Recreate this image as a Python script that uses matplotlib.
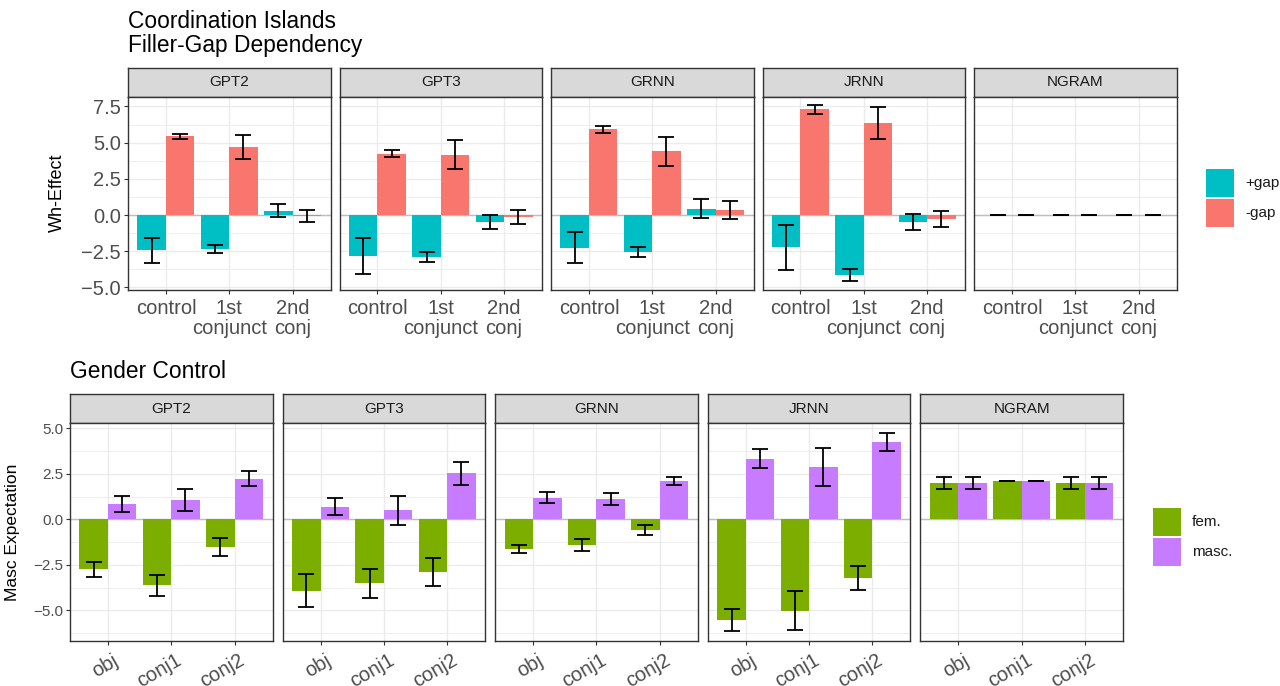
import numpy as np
import matplotlib
matplotlib.use("Agg")
import matplotlib.pyplot as plt
import matplotlib.transforms as mtransforms
from matplotlib.patches import Rectangle

plt.rcParams['font.family'] = ['Liberation Sans', 'DejaVu Sans']

# ---- data ----
models = ['GPT2', 'GPT3', 'GRNN', 'JRNN', 'NGRAM']

island_conds = ['control', '1st\nconjunct', '2nd\nconj']
gap_labels = ['+gap', '-gap']
# rows = models, cols = conditions
plus_gap = [[-2.45, -2.33, 0.30], [-2.81, -2.92, -0.47], [-2.25, -2.55, 0.44],
            [-2.24, -4.17, -0.48], [0.0, 0.0, 0.0]]
plus_gap_err = [[0.89, 0.29, 0.43], [1.24, 0.35, 0.48], [1.09, 0.36, 0.64],
                [1.55, 0.41, 0.58], [0.0, 0.0, 0.0]]
minus_gap = [[5.44, 4.71, -0.04], [4.23, 4.18, -0.13], [5.93, 4.40, 0.32],
             [7.30, 6.37, -0.26], [0.0, 0.0, 0.0]]
minus_gap_err = [[0.16, 0.81, 0.41], [0.25, 0.97, 0.47], [0.23, 0.98, 0.62],
                 [0.29, 1.12, 0.57], [0.0, 0.0, 0.0]]

gender_conds = ['obj', 'conj1', 'conj2']
gender_labels = ['fem.', 'masc.']
fem = [[-2.75, -3.63, -1.52], [-3.92, -3.51, -2.88], [-1.62, -1.41, -0.60],
       [-5.55, -5.02, -3.21], [1.99, 2.12, 1.99]]
fem_err = [[0.43, 0.60, 0.50], [0.90, 0.80, 0.77], [0.22, 0.33, 0.27],
           [0.60, 1.06, 0.65], [0.33, 0.0, 0.33]]
masc = [[0.85, 1.06, 2.23], [0.69, 0.49, 2.52], [1.18, 1.11, 2.09],
        [3.33, 2.88, 4.25], [1.99, 2.12, 1.99]]
masc_err = [[0.43, 0.60, 0.41], [0.47, 0.80, 0.63], [0.31, 0.33, 0.23],
            [0.52, 1.06, 0.50], [0.33, 0.0, 0.33]]

# ggplot-like colours
GAP_COLORS = ['#00BFC4', '#F8766D']
GENDER_COLORS = ['#7CAE00', '#C77CFF']

W, H = 1280, 686
fig = plt.figure(figsize=(W / 100, H / 100), dpi=100)


def px_axes(x0, y0, x1, y1):
    """axes from pixel box (top-left origin)"""
    return fig.add_axes([x0 / W, 1 - y1 / H, (x1 - x0) / W, (y1 - y0) / H])


def draw_row(lefts, width, strip_top, panel_top, panel_bottom, ylim, yticks,
             series, errs, colors, conds, ytick_size, xtick_size, rotate):
    axes = []
    for i, model in enumerate(models):
        x0 = lefts[i]
        # strip
        sax = px_axes(x0, strip_top, x0 + width, panel_top)
        sax.set_facecolor('#D9D9D9')
        sax.set_xticks([])
        sax.set_yticks([])
        for sp in sax.spines.values():
            sp.set_color('#333333')
            sp.set_linewidth(1.0)
        sax.text(0.5, 0.5, model, ha='center', va='center', fontsize=11,
                 color='#1A1A1A', transform=sax.transAxes)

        ax = px_axes(x0, panel_top, x0 + width, panel_bottom)
        ax.set_xlim(0.4, 3.6)
        ax.set_ylim(*ylim)
        ax.set_yticks(yticks)
        minor = [(a + b) / 2 for a, b in zip(yticks[:-1], yticks[1:])]
        minor = [m for m in minor + [yticks[0] - 1.25, yticks[-1] + 1.25]
                 if ylim[0] < m < ylim[1]]
        ax.set_yticks(minor, minor=True)
        ax.set_xticks([1, 2, 3])
        ax.set_axisbelow(True)
        ax.grid(True, which='major', color='#EBEBEB', lw=1.0)
        ax.grid(True, which='minor', axis='y', color='#EBEBEB', lw=0.6)
        ax.axhline(0, color='#BEBEBE', lw=1.0, zorder=1)
        for sp in ax.spines.values():
            sp.set_color('#333333')
            sp.set_linewidth(1.0)
        ax.tick_params(which='minor', length=0)
        ax.tick_params(which='major', length=3, width=0.8, color='#333333',
                       labelcolor='#4D4D4D', pad=2)

        x = np.arange(1, 4)
        bw = 0.45
        for k in range(2):
            xs = x + (k - 0.5) * bw
            ax.bar(xs, series[k][i], width=bw, color=colors[k], zorder=2)
            ax.errorbar(xs, series[k][i], yerr=errs[k][i], fmt='none',
                        ecolor='black', elinewidth=1.3, capsize=5.5,
                        capthick=1.3, zorder=3)

        if rotate:
            labs = ax.set_xticklabels(conds, rotation=30, ha='right',
                                      rotation_mode='anchor', fontsize=xtick_size)
            shift = mtransforms.ScaledTranslation(3 / 72, -2 / 72,
                                                  fig.dpi_scale_trans)
            for t in labs:
                t.set_transform(t.get_transform() + shift)
        else:
            ax.set_xticklabels(conds, fontsize=xtick_size, linespacing=1.08)
            ax.tick_params(axis='x', pad=3.5)
        if i == 0:
            ax.tick_params(axis='y', labelsize=ytick_size)
        else:
            ax.tick_params(axis='y', left=False, labelleft=False)
        axes.append(ax)
    return axes


top_lefts = [128 + 211.5 * i for i in range(5)]
top_axes = draw_row(top_lefts, 202.5, 67.5, 96.5, 290, (-5.18, 8.19),
                    [-5.0, -2.5, 0.0, 2.5, 5.0, 7.5],
                    [plus_gap, minus_gap], [plus_gap_err, minus_gap_err],
                    GAP_COLORS, island_conds, 14.5, 14.5, False)
top_axes[0].set_ylabel('Wh-Effect', fontsize=13)

bot_lefts = [70 + 212.6 * i for i in range(5)]
bot_axes = draw_row(bot_lefts, 202.5, 394, 423.3, 641, (-6.68, 5.27),
                    [-5.0, -2.5, 0.0, 2.5, 5.0],
                    [fem, masc], [fem_err, masc_err],
                    GENDER_COLORS, gender_conds, 11, 14.5, True)
bot_axes[0].set_ylabel('Masc Expectation', fontsize=12.5)

top_axes[0].yaxis.set_label_coords(66 / W, 1 - 193 / H, transform=fig.transFigure)
bot_axes[0].yaxis.set_label_coords(20 / W, 1 - 532 / H, transform=fig.transFigure)

# titles
fig.text(128 / W, 1 - 28 / H, 'Coordination Islands', fontsize=16.4, va='baseline')
fig.text(128 / W, 1 - 52 / H, 'Filler-Gap Dependency', fontsize=16.4, va='baseline')
fig.text(70 / W, 1 - 378 / H, 'Gender Control', fontsize=16.4, va='baseline')


def draw_legend(x0, y0, labels, colors):
    for k, (lab, col) in enumerate(zip(labels, colors)):
        top = y0 + k * 30
        fig.add_artist(Rectangle((x0 / W, 1 - (top + 28) / H), 28 / W, 28 / H,
                                 transform=fig.transFigure, facecolor=col,
                                 edgecolor='none'))
        fig.text((x0 + 39) / W, 1 - (top + 14) / H, lab, fontsize=11,
                 va='center', ha='left', color='#1A1A1A')


draw_legend(1206, 169, gap_labels, GAP_COLORS)
draw_legend(1153, 508, gender_labels, GENDER_COLORS)

fig.savefig('out.png', dpi=100)
